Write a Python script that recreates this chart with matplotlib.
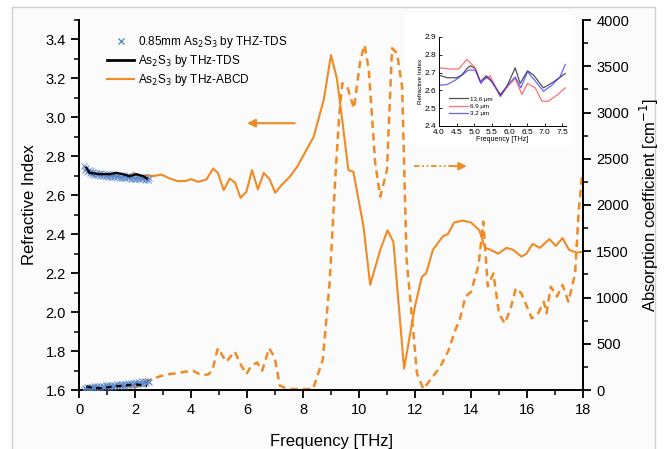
import matplotlib
matplotlib.use("Agg")
import matplotlib.pyplot as plt
from matplotlib.lines import Line2D
from matplotlib.patches import Rectangle
from matplotlib.ticker import MultipleLocator

plt.rcParams['font.family'] = ['Liberation Sans', 'DejaVu Sans']

ORANGE = '#F08A24'
BLUE = '#4F7FC4'

# ---------------- data ----------------
# 0.85mm As2S3 by THz-TDS (markers)
x_m = [0.18, 0.22, 0.26, 0.30, 0.34, 0.38, 0.42, 0.46, 0.50, 0.55, 0.60, 0.65, 0.70, 0.75, 0.80, 0.85, 0.90,
       0.95, 1.00, 1.05, 1.10, 1.15, 1.20, 1.25, 1.30, 1.35, 1.40, 1.45, 1.50, 1.55, 1.60, 1.65, 1.70, 1.75,
       1.80, 1.85, 1.90, 1.95, 2.00, 2.05, 2.10, 2.15, 2.20, 2.25, 2.30, 2.35, 2.40, 2.45, 2.50]
n_m = [2.748, 2.732, 2.740, 2.722, 2.730, 2.714, 2.724, 2.708, 2.720, 2.705, 2.716, 2.702, 2.714, 2.700,
       2.712, 2.698, 2.711, 2.697, 2.709, 2.695, 2.708, 2.694, 2.707, 2.693, 2.706, 2.692, 2.705, 2.691,
       2.703, 2.689, 2.702, 2.688, 2.701, 2.687, 2.700, 2.686, 2.699, 2.685, 2.698, 2.684, 2.696, 2.682,
       2.695, 2.681, 2.693, 2.679, 2.691, 2.678, 2.688]
a_m = [5, 22, 8, 28, 10, 32, 14, 35, 17, 40, 20, 42, 22, 45, 25, 48, 28, 50, 30, 52, 33, 55, 36, 58, 38,
       60, 41, 63, 44, 66, 47, 70, 50, 73, 53, 76, 56, 80, 60, 84, 63, 88, 67, 92, 70, 96, 75, 100, 82]

# As2S3 by THz-TDS (black)
x_tds = [0.26, 0.38, 0.55, 0.74, 0.92, 1.10, 1.33, 1.57, 1.81, 2.05, 2.29, 2.43]
n_tds = [2.742, 2.715, 2.712, 2.708, 2.709, 2.708, 2.715, 2.708, 2.698, 2.708, 2.698, 2.686]
a_tds = [40, 30, 25, 18, 22, 32, 40, 45, 54, 60, 50, 45]

# As2S3 by THz-ABCD (orange) refractive index
x_abcd_n = [1.95, 2.17, 2.46, 2.64, 2.94, 3.24, 3.54, 3.83, 4.01, 4.25, 4.55, 4.79, 4.96, 5.17, 5.38, 5.58,
            5.77, 5.98, 6.18, 6.39, 6.60, 6.81, 7.01, 7.23, 7.52, 7.79, 8.38, 8.74, 9.00, 9.21, 9.39, 9.62,
            9.80, 10.16, 10.40, 10.76, 11.02, 11.23, 11.61, 12.00, 12.24, 12.40, 12.64, 13.00, 13.17, 13.40,
            13.70, 14.00, 14.30, 14.50, 14.70, 14.97, 15.27, 15.50, 15.80, 15.98, 16.20, 16.46, 16.80, 17.03,
            17.27, 17.50, 17.78, 17.96]
n_abcd = [2.715, 2.698, 2.703, 2.698, 2.706, 2.686, 2.672, 2.674, 2.683, 2.669, 2.681, 2.737, 2.715, 2.626,
          2.686, 2.664, 2.587, 2.618, 2.729, 2.630, 2.715, 2.681, 2.613, 2.652, 2.694, 2.746, 2.90, 3.09, 3.32,
          3.20, 3.00, 2.73, 2.72, 2.44, 2.14, 2.32, 2.42, 2.36, 1.71, 2.03, 2.18, 2.20, 2.32, 2.39, 2.40, 2.46,
          2.47, 2.46, 2.42, 2.33, 2.32, 2.30, 2.33, 2.32, 2.285, 2.30, 2.35, 2.33, 2.375, 2.34, 2.38, 2.32,
          2.305, 2.31]

# As2S3 by THz-ABCD absorption coefficient
x_abcd_a = [1.95, 2.17, 2.52, 2.88, 3.24, 3.54, 3.77, 4.07, 4.37, 4.61, 4.76, 4.96, 5.26, 5.56, 5.80, 5.98,
            6.15, 6.36, 6.54, 6.79, 6.99, 7.17, 7.40, 7.64, 8.36, 8.71, 8.95, 9.17, 9.29, 9.40, 9.58, 9.82,
            10.05, 10.20, 10.35, 10.58, 10.76, 11.00, 11.18, 11.36, 11.54, 11.70, 11.90, 12.07, 12.30, 12.55,
            12.90, 13.20, 13.44, 13.60, 13.80, 14.00, 14.27, 14.44, 14.60, 14.80, 15.00, 15.20, 15.40, 15.60,
            15.80, 16.17, 16.40, 16.60, 16.70, 16.85, 17.07, 17.27, 17.48, 17.72, 17.84, 17.96]
a_abcd = [18, 57, 107, 147, 172, 183, 197, 208, 161, 168, 208, 452, 305, 416, 262, 172, 262, 297, 208, 452,
          351, 47, 18, 10, 10, 333, 1158, 2380, 2955, 3315, 3280, 3045, 3570, 3730, 3460, 2450, 2090, 2380,
          3695, 3640, 3280, 1405, 760, 180, 10, 110, 250, 430, 650, 760, 1010, 1060, 1350, 1820, 1120, 1260,
          830, 720, 865, 1100, 1045, 775, 830, 955, 830, 1117, 1010, 1135, 955, 1260, 1910, 2300]

# inset: refractive index vs thickness
x_in_k = [4.00, 4.23, 4.50, 4.65, 4.79, 4.89, 5.03, 5.17, 5.34, 5.45, 5.74, 5.92, 6.16, 6.30, 6.51, 6.68, 6.96, 7.25, 7.58]
n_in_k = [2.686, 2.671, 2.671, 2.686, 2.723, 2.738, 2.723, 2.648, 2.682, 2.663, 2.577, 2.620, 2.727, 2.639, 2.710, 2.686, 2.614, 2.648, 2.695]
x_in_r = [4.00, 4.32, 4.56, 4.79, 5.00, 5.17, 5.34, 5.45, 5.74, 5.94, 6.16, 6.35, 6.51, 6.73, 6.92, 7.10, 7.34, 7.58]
n_in_r = [2.727, 2.720, 2.720, 2.774, 2.733, 2.654, 2.667, 2.682, 2.564, 2.620, 2.667, 2.577, 2.639, 2.614, 2.539, 2.539, 2.573, 2.614]
x_in_b = [4.00, 4.23, 4.46, 4.65, 4.84, 5.03, 5.19, 5.34, 5.50, 5.74, 5.94, 6.16, 6.32, 6.51, 6.73, 6.96, 7.20, 7.43, 7.58]
n_in_b = [2.629, 2.633, 2.657, 2.686, 2.714, 2.714, 2.639, 2.676, 2.648, 2.569, 2.629, 2.676, 2.614, 2.705, 2.652, 2.595, 2.629, 2.676, 2.746]
inset_labels = ['13.6 μm', '6.9 μm', '3.2 μm']

# ---------------- figure ----------------
fig = plt.figure(figsize=(6.67, 4.49), dpi=100, facecolor='white')
# light page frame of the original screenshot
fig.patches.append(Rectangle((12/667, -0.01), 643/667, (449-7)/449 + 0.01, transform=fig.transFigure,
                             facecolor='#fbfbfb', edgecolor='#cfcfcf', lw=1.0, zorder=-10))
fig.patches.append(Rectangle((405/667, (449-145)/449), 167/667, 132/449, transform=fig.transFigure,
                             facecolor='white', edgecolor='none', zorder=-9))

ax = fig.add_axes([79/667, 59/449, 504/667, 370/449])
ax.patch.set_visible(False)
ax2 = ax.twinx()
ax2.patch.set_visible(False)

ax.plot(x_m, n_m, linestyle='none', marker='x', ms=3.8, mew=0.8, color=BLUE, alpha=0.75, zorder=3)
ax2.plot(x_m, a_m, linestyle='none', marker='x', ms=3.8, mew=0.8, color=BLUE, alpha=0.75, zorder=3)
ax.plot(x_tds, n_tds, color='black', lw=1.6, zorder=4)
ax2.plot(x_tds, a_tds, color='black', lw=1.6, ls=(0, (2.5, 2)), zorder=4)
ax.plot(x_abcd_n, n_abcd, color=ORANGE, lw=1.5, zorder=2)
ax2.plot(x_abcd_a, a_abcd, color=ORANGE, lw=1.8, ls=(0, (3, 2)), zorder=2)

ax.set_xlim(0, 18)
ax.set_ylim(1.6, 3.5)
ax2.set_ylim(0, 4000)
ax.xaxis.set_major_locator(MultipleLocator(2))
ax.xaxis.set_minor_locator(MultipleLocator(1))
ax.yaxis.set_minor_locator(MultipleLocator(0.1))
ax2.yaxis.set_major_locator(MultipleLocator(500))
ax2.yaxis.set_minor_locator(MultipleLocator(250))
ax.set_yticks([1.6, 1.8, 2.0, 2.2, 2.4, 2.6, 2.8, 3.0, 3.2, 3.4])

for a_ in (ax, ax2):
    a_.spines['top'].set_visible(False)
    for s in a_.spines.values():
        s.set_linewidth(1.3)
    a_.tick_params(which='major', direction='out', length=6, width=1.3, labelsize=10.5)
    a_.tick_params(which='minor', direction='out', length=3.5, width=1.1)

ax.set_xlabel('Frequency [THz]', fontsize=12, labelpad=12)
ax.set_ylabel('Refractive Index', fontsize=12, labelpad=6)
ax2.set_ylabel('Absorption coefficient [cm$^{-1}$]', fontsize=12, labelpad=6)

# arrows
ax.annotate('', xy=(5.9, 2.97), xytext=(7.8, 2.97),
            arrowprops=dict(arrowstyle='-|>', color=ORANGE, lw=1.5, mutation_scale=12))
ax2.plot([11.96, 13.4], [2420, 2420], color=ORANGE, lw=1.3, ls=(0, (3, 1.5, 1, 1.5, 1, 1.5)))
ax2.annotate('', xy=(13.95, 2420), xytext=(13.3, 2420),
             arrowprops=dict(arrowstyle='-|>', color=ORANGE, lw=1.3, mutation_scale=12))

handles = [Line2D([], [], ls='none', marker='x', ms=4, mew=0.9, color=BLUE),
           Line2D([], [], color='black', lw=2),
           Line2D([], [], color=ORANGE, lw=1.5)]
labels = ['0.85mm As$_2$S$_3$ by THZ-TDS', 'As$_2$S$_3$ by THz-TDS', 'As$_2$S$_3$ by THz-ABCD']
ax2.legend(handles, labels, loc='upper left', bbox_to_anchor=(0.035, 0.99), frameon=False,
           fontsize=8.5, handlelength=2.3, handletextpad=0.3, labelspacing=0.25)

# inset
axi = fig.add_axes([439/667, (449-126)/449, 127/667, 89/449])
axi.plot(x_in_k, n_in_k, color='#333333', lw=0.9, alpha=0.85, label=inset_labels[0])
axi.plot(x_in_r, n_in_r, color='#FF4040', lw=0.9, alpha=0.75, label=inset_labels[1])
axi.plot(x_in_b, n_in_b, color='#3333FF', lw=0.9, alpha=0.75, label=inset_labels[2])
axi.set_xlim(4.0, 7.6)
axi.set_ylim(2.4, 2.9)
axi.xaxis.set_major_locator(MultipleLocator(0.5))
axi.yaxis.set_major_locator(MultipleLocator(0.1))
axi.spines['top'].set_visible(False)
axi.spines['right'].set_visible(False)
for s in axi.spines.values():
    s.set_linewidth(0.7)
axi.tick_params(direction='in', length=2, width=0.6, labelsize=6)
axi.tick_params(axis='x', pad=2)
axi.tick_params(axis='y', pad=2)
axi.set_xlabel('Frequency [THz]', fontsize=5, labelpad=0)
axi.set_ylabel('Refractive Index', fontsize=4.5, labelpad=1)
axi.legend(loc='lower left', bbox_to_anchor=(0.05, 0.07), frameon=False, fontsize=4.5,
           handlelength=3, handletextpad=0.4, labelspacing=0.3, borderpad=0.1)

fig.savefig('out.png', dpi=100, facecolor='white')
